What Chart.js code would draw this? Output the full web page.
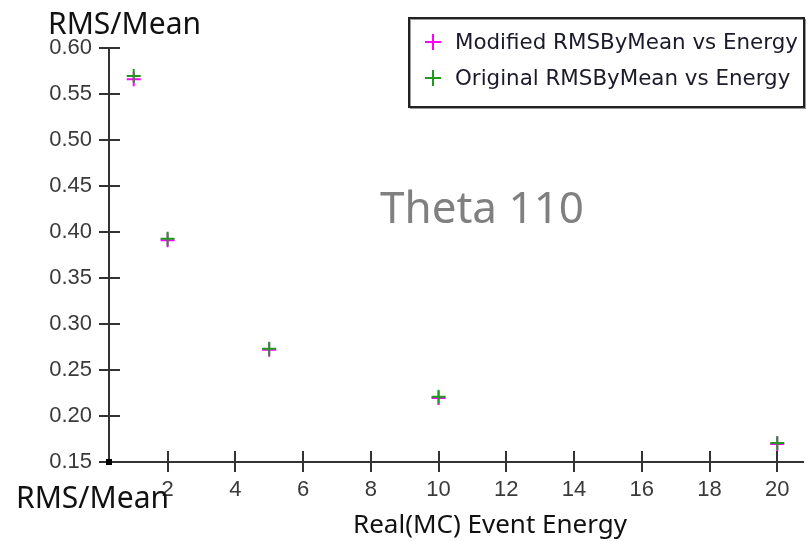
<!DOCTYPE html>
<html>
<head>
<meta charset="utf-8">
<title>RMS/Mean vs Energy</title>
<script src="https://cdn.jsdelivr.net/npm/chart.js@4/dist/chart.umd.min.js"></script>
<style>
  html, body { margin: 0; padding: 0; background: #fff; }
  canvas { display: block; }
</style>
</head>
<body>
<canvas id="rmsChart" width="807" height="541"></canvas>
<script>
// energies (x) and RMS/Mean for both reconstructions
const energies = [1, 2, 5, 10, 20];
const modifiedRms = [0.566, 0.391, 0.272, 0.2195, 0.1695];
const originalRms = [0.5695, 0.3927, 0.273, 0.221, 0.1706];
const seriesLabels = ['Modified RMSByMean vs Energy', 'Original RMSByMean vs Energy'];
const seriesColors = ['#ff00ff', '#1f9a1f'];
const yTitle = 'RMS/Mean';
const xTitle = 'Real(MC) Event Energy';
const plotNote = 'Theta 110';

const tickFont = { family: 'Liberation Sans', size: 22 };
const axisColor = '#333';

function toPoints(xs, ys) {
    return xs.map((x, i) => ({ x: x, y: ys[i] }));
}

// tick marks cross the axis line: grid draws the outer half, this the inner half
const innerTicks = {
    id: 'innerTicks',
    afterDraw(chart) {
        const ctx = chart.ctx;
        const xs = chart.scales.x, ys = chart.scales.y;
        const area = chart.chartArea;
        ctx.save();
        ctx.strokeStyle = axisColor;
        ctx.lineWidth = 2;
        ctx.beginPath();
        ys.ticks.forEach(t => {
            const py = Math.round(ys.getPixelForValue(t.value));
            ctx.moveTo(area.left, py);
            ctx.lineTo(area.left + 11, py);
        });
        xs.ticks.forEach(t => {
            const px = Math.round(xs.getPixelForValue(t.value));
            ctx.moveTo(px, area.bottom);
            ctx.lineTo(px, area.bottom - 11);
        });
        ctx.stroke();
        ctx.fillStyle = '#000';
        ctx.fillRect(area.left - 3, area.bottom - 3, 6, 6);
        ctx.restore();
    }
};

// free-standing texts and the framed legend
const chartTexts = {
    id: 'chartTexts',
    afterDraw(chart) {
        const ctx = chart.ctx;
        ctx.save();
        ctx.textBaseline = 'alphabetic';
        ctx.textAlign = 'left';
        ctx.fillStyle = '#111';
        ctx.font = '30px "Noto Sans"';
        ctx.fillText(yTitle, 48, 34);
        ctx.fillText(yTitle, 16, 508);
        ctx.font = '26px "Noto Sans"';
        ctx.fillText(xTitle, 353, 533);
        ctx.fillStyle = '#808080';
        ctx.font = '44px "Noto Sans"';
        ctx.fillText(plotNote, 380, 223);

        // legend frame
        const lx = 409, ly = 18, lw = 395, lh = 89;
        ctx.fillStyle = '#fff';
        ctx.fillRect(lx, ly, lw, lh);
        ctx.strokeStyle = '#999';
        ctx.lineWidth = 1;
        ctx.strokeRect(lx + 1.5, ly + 1.5, lw, lh);
        ctx.strokeStyle = '#222';
        ctx.lineWidth = 2;
        ctx.strokeRect(lx, ly, lw, lh);

        ctx.font = '21.4px "DejaVu Sans"';
        ctx.textBaseline = 'middle';
        seriesLabels.forEach((label, i) => {
            const cy = 42 + i * 36, cx = 433;
            ctx.strokeStyle = seriesColors[i];
            ctx.lineWidth = 2;
            ctx.beginPath();
            ctx.moveTo(cx - 8, cy); ctx.lineTo(cx + 8, cy);
            ctx.moveTo(cx, cy - 8); ctx.lineTo(cx, cy + 8);
            ctx.stroke();
            ctx.fillStyle = '#1a1a2a';
            ctx.fillText(label, 455, cy + 1);
        });
        ctx.restore();
    }
};

new Chart(document.getElementById('rmsChart').getContext('2d'), {
    type: 'scatter',
    data: {
        datasets: [{
            label: seriesLabels[0],
            data: toPoints(energies, modifiedRms),
            borderColor: seriesColors[0],
            backgroundColor: seriesColors[0],
            pointStyle: 'cross',
            pointRadius: 7,
            pointBorderWidth: 2,
            order: 1
        }, {
            label: seriesLabels[1],
            data: toPoints(energies, originalRms),
            borderColor: seriesColors[1],
            backgroundColor: seriesColors[1],
            pointStyle: 'cross',
            pointRadius: 7,
            pointBorderWidth: 2,
            order: 0
        }]
    },
    options: {
        responsive: false,
        animation: false,
        layout: {
            autoPadding: false,
            padding: { top: 48, right: 4, left: 0, bottom: 0 }
        },
        plugins: {
            legend: { display: false },
            tooltip: { enabled: false }
        },
        scales: {
            x: {
                type: 'linear',
                min: 0.27,
                max: 20.76,
                afterFit(scale) {
                    scale.height = 79;
                    scale.paddingLeft = 0;
                    scale.paddingRight = 0;
                },
                border: { display: true, color: axisColor, width: 2 },
                grid: { drawOnChartArea: false, color: axisColor, lineWidth: 2, tickLength: 10 },
                ticks: {
                    stepSize: 2,
                    includeBounds: false,
                    maxRotation: 0,
                    autoSkip: false,
                    padding: 5,
                    color: '#3a3a3a',
                    font: tickFont
                }
            },
            y: {
                min: 0.15,
                max: 0.60,
                afterFit(scale) {
                    scale.width = 109;
                    scale.paddingTop = 0;
                    scale.paddingBottom = 0;
                },
                border: { display: true, color: axisColor, width: 2 },
                grid: { drawOnChartArea: false, color: axisColor, lineWidth: 2, tickLength: 10 },
                ticks: {
                    stepSize: 0.05,
                    padding: 7,
                    color: '#3a3a3a',
                    font: tickFont,
                    callback: v => v.toFixed(2)
                }
            }
        }
    },
    plugins: [innerTicks, chartTexts]
});
</script>
</body>
</html>
